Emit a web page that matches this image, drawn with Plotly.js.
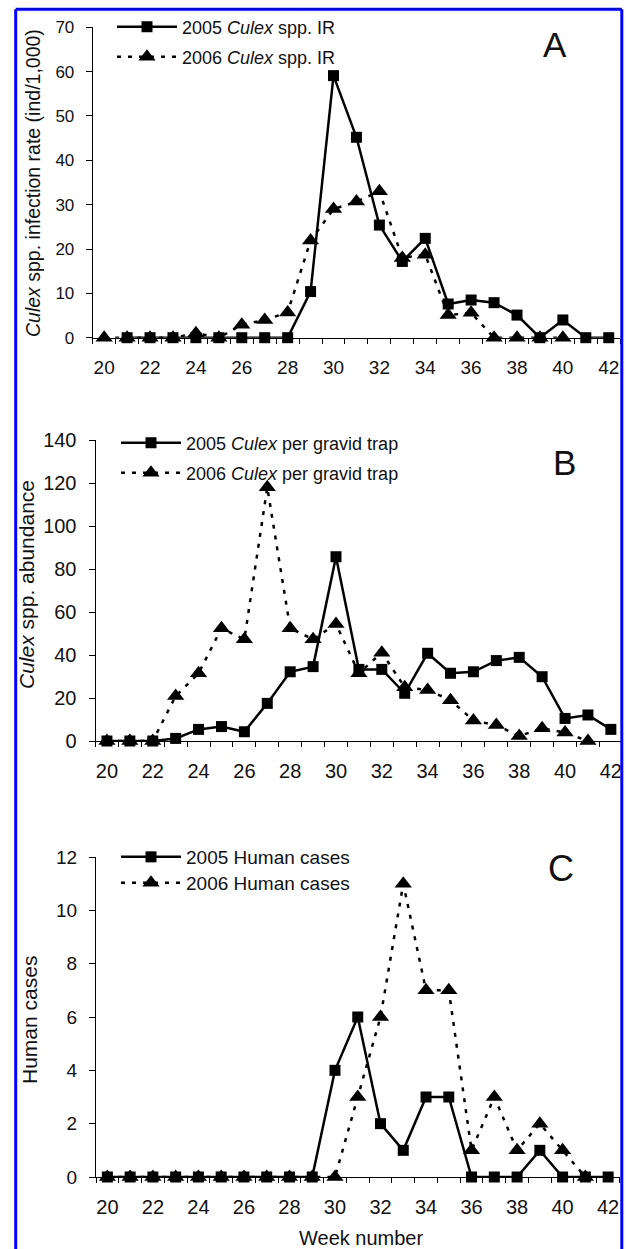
<!DOCTYPE html>
<html>
<head>
<meta charset="utf-8">
<script src="https://cdn.plot.ly/plotly-3.0.1.min.js"></script>
<style>html,body{margin:0;padding:0;background:#fff;}#chart{width:626px;height:1249px;}</style>
</head>
<body>
<div id="chart"></div>
<script>
// ---- data ----
const weeks = [20,21,22,23,24,25,26,27,28,29,30,31,32,33,34,35,36,37,38,39,40,41,42];
const weekLabels = [20,22,24,26,28,30,32,34,36,38,40,42];

const ir2005 = [null,0,0,0,0,0,0,0,0,10.4,59.1,45.2,25.4,17.2,22.4,7.6,8.5,7.9,5.1,0,4.0,0,0];
const ir2006 = [0,0,0,0,1,0,2.9,4,5.7,21.9,29,30.7,33,18,18.7,5.1,5.6,0,0,0,0,null,null];

const abund2005 = [0,0,0,1.2,5.4,6.7,4.3,17.5,32.2,34.6,85.7,33.3,33.3,22.2,40.8,31.5,32.2,37.4,38.9,29.9,10.5,12.1,5.4];
const abund2006 = [0,0,0,20.9,31.5,52.4,47.3,118,52.4,47.3,54.4,31.5,41.1,25,23.7,19,9.5,7.4,2.3,5.9,3.9,0,null];

const cases2005 = [0,0,0,0,0,0,0,0,0,0,4,6,2,1,3,3,0,0,0,1,0,0,0];
const cases2006 = [0,0,0,0,0,0,0,0,0,0,0,3,6,11,7,7,1,3,1,2,1,0,null];

const yTicksA = [0,10,20,30,40,50,60,70];
const yTicksB = [0,20,40,60,80,100,120,140];
const yTicksC = [0,2,4,6,8,10,12];

const namesA = ['2005 <i>Culex</i> spp. IR', '2006 <i>Culex</i> spp. IR'];
const namesB = ['2005 <i>Culex</i> per gravid trap', '2006 <i>Culex</i> per gravid trap'];
const namesC = ['2005 Human cases', '2006 Human cases'];

// category boundaries (tick marks sit between weeks)
const weekEdges = weeks.map(w => w - 0.5).concat([weeks[weeks.length - 1] + 0.5]);

// ---- layout helpers ----
const W = 626, H = 1249;
const fx = px => px / W;
const fy = py => 1 - py / H;
const FONT = 'Liberation Sans, Arial, sans-serif';
const XR = [weekEdges[0], weekEdges[weekEdges.length - 1]];

function s2006(y, xa, ya, name, leg) {
  return {x: weeks, y: y, xaxis: xa, yaxis: ya, name: name, legend: leg,
    type: 'scatter', mode: 'lines+markers', cliponaxis: false,
    line: {color: '#000', width: 2.5, dash: '4px,7px'},
    marker: {symbol: 'triangle-up', size: 15, color: '#000'}};
}
function s2005(y, xa, ya, name, leg) {
  return {x: weeks, y: y, xaxis: xa, yaxis: ya, name: name, legend: leg,
    type: 'scatter', mode: 'lines+markers', cliponaxis: false,
    line: {color: '#000', width: 2.5},
    marker: {symbol: 'square', size: 11, color: '#000'}};
}
// invisible carrier so the overlaying label axis is drawn
function carrier(y, xa, ya) {
  return {x: weeks, y: y, xaxis: xa, yaxis: ya, type: 'scatter', mode: 'lines',
    opacity: 0, showlegend: false, hoverinfo: 'skip', line: {width: 0}};
}

const data = [
  carrier(ir2005, 'x4', 'y'),
  carrier(abund2005, 'x5', 'y2'),
  carrier(cases2005, 'x6', 'y3'),
  s2006(ir2006, 'x', 'y', namesA[1], 'legend2'),
  s2005(ir2005, 'x', 'y', namesA[0], 'legend'),
  s2006(abund2006, 'x2', 'y2', namesB[1], 'legend4'),
  s2005(abund2005, 'x2', 'y2', namesB[0], 'legend3'),
  s2006(cases2006, 'x3', 'y3', namesC[1], 'legend6'),
  s2005(cases2005, 'x3', 'y3', namesC[0], 'legend5'),
];

// axis that carries the line and the tick marks (between categories)
function xAxisTicks(domain, anchor) {
  return {domain: domain, anchor: anchor, range: XR, fixedrange: true,
    tickmode: 'array', tickvals: weekEdges, ticktext: weekEdges.map(() => ''),
    ticks: 'outside', ticklen: 5, tickcolor: '#000', tickwidth: 1,
    showgrid: false, zeroline: false,
    showline: true, linecolor: '#000', linewidth: 1, layer: 'below traces'};
}
// overlaying axis that carries the labels (at the categories)
function xAxisLabels(over, anchor, fs) {
  return {overlaying: over, anchor: anchor, side: 'bottom', range: XR, fixedrange: true,
    tickmode: 'array', tickvals: weekLabels, ticktext: weekLabels.map(String),
    ticks: '', showgrid: false, zeroline: false, showline: false,
    ticklabelstandoff: 16, layer: 'below traces',
    tickfont: {family: FONT, size: fs, color: '#111'}};
}
function yAxis(domain, anchor, range, vals, fs) {
  return {domain: domain, anchor: anchor, range: range, fixedrange: true,
    tickmode: 'array', tickvals: vals, ticktext: vals.map(String),
    ticks: 'outside', ticklen: 6, tickcolor: '#000', tickwidth: 1,
    showgrid: false, zeroline: false, showline: true, linecolor: '#000', linewidth: 1,
    layer: 'below traces', ticklabelstandoff: 8,
    tickfont: {family: FONT, size: fs, color: '#111'}};
}
function leg(px, py, fs) {
  return {x: fx(px), y: fy(py), xanchor: 'left', yanchor: 'middle', bgcolor: 'rgba(0,0,0,0)',
    borderwidth: 0, itemwidth: 60, font: {family: FONT, size: fs, color: '#111'}};
}
function ann(text, px, py, fs, angle) {
  return {text: text, x: fx(px), y: fy(py), xref: 'paper', yref: 'paper', showarrow: false,
    xanchor: 'center', yanchor: 'middle', textangle: angle || 0,
    font: {family: FONT, size: fs, color: '#111'}};
}

const layout = {
  width: W, height: H, margin: {l: 0, r: 0, t: 0, b: 0},
  paper_bgcolor: '#fff', plot_bgcolor: 'rgba(0,0,0,0)', showlegend: true,
  xaxis: xAxisTicks([fx(92.7), fx(620.2)], 'y'),
  yaxis: yAxis([fy(337.7), fy(27.3)], 'x', [0, 70], yTicksA, 17),
  xaxis2: xAxisTicks([fx(95.5), fx(622.3)], 'y2'),
  yaxis2: yAxis([fy(741), fy(440)], 'x2', [0, 140], yTicksB, 20),
  xaxis3: xAxisTicks([fx(96), fx(619.5)], 'y3'),
  yaxis3: yAxis([fy(1177), fy(857)], 'x3', [0, 12], yTicksC, 19),
  xaxis4: xAxisLabels('x', 'y', 19),
  xaxis5: xAxisLabels('x2', 'y2', 20),
  xaxis6: xAxisLabels('x3', 'y3', 20),
  legend: leg(112, 27, 18),
  legend2: leg(112, 57, 18),
  legend3: leg(116, 443, 18),
  legend4: leg(116, 473, 18),
  legend5: leg(116, 857, 19),
  legend6: leg(116, 883, 19),
  annotations: [
    ann('<i>Culex</i> spp. infection rate (ind/1,000)', 33, 183, 19.5, -90),
    ann('<i>Culex</i> spp. abundance', 26, 585, 21, -90),
    ann('Human cases', 29, 1020, 21, -90),
    ann('Week number', 361, 1238, 20),
    ann('A', 555, 44.5, 35),
    ann('B', 564, 462.5, 35),
    ann('C', 561, 869, 36),
  ],
  shapes: [
    {type: 'line', xref: 'paper', yref: 'paper', x0: fx(15.7), x1: fx(15.7), y0: fy(9.3), y1: -0.01, line: {color: '#0000ff', width: 3}},
    {type: 'line', xref: 'paper', yref: 'paper', x0: fx(15.7), x1: fx(621.8), y0: fy(9.3), y1: fy(9.3), line: {color: '#0000ff', width: 3}},
    {type: 'line', xref: 'paper', yref: 'paper', x0: fx(621.8), x1: fx(621.8), y0: fy(9.3), y1: -0.01, line: {color: '#0000ff', width: 3}},
  ]
};

Plotly.newPlot('chart', data, layout, {displayModeBar: false, staticPlot: true});
</script>
</body>
</html>
